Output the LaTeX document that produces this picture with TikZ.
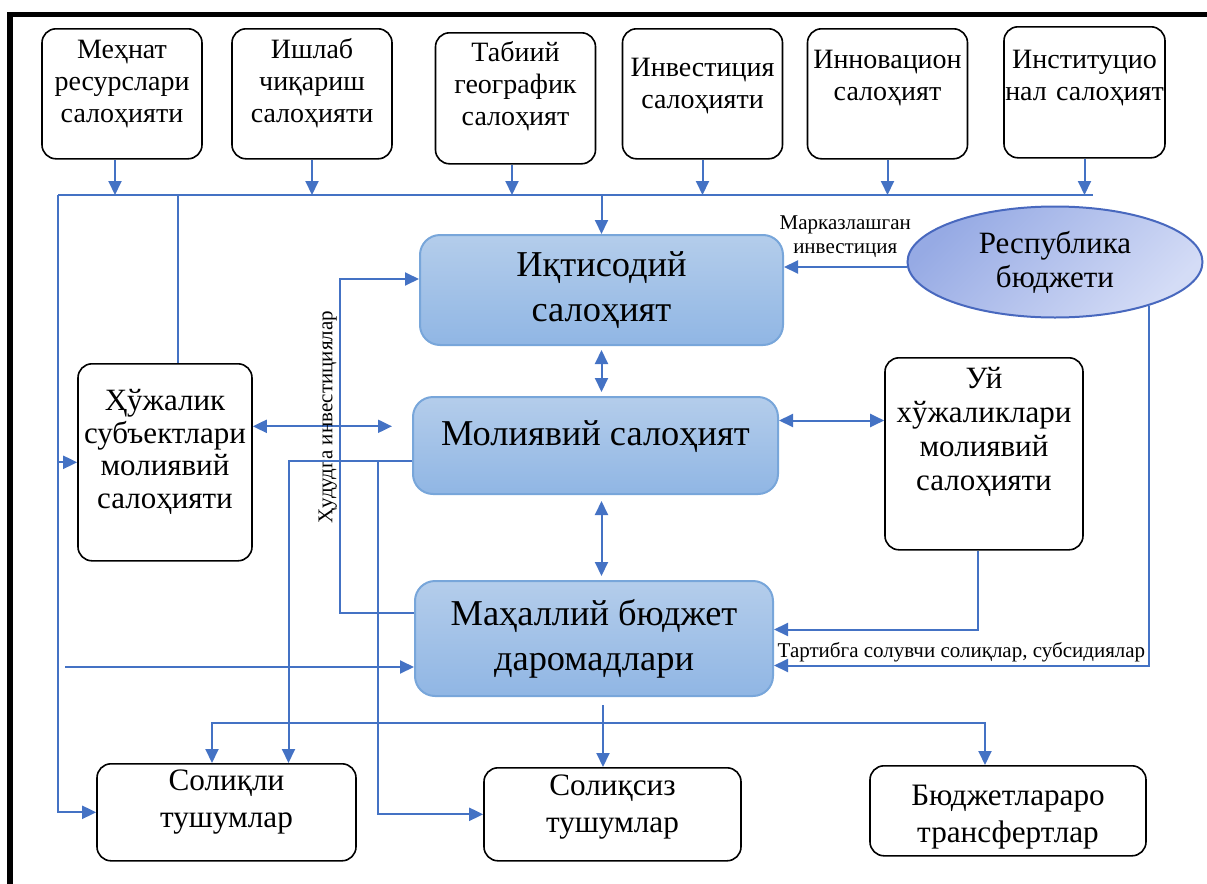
\documentclass[tikz,border=0pt]{standalone}
\usepackage{fontspec}
\setmainfont{Liberation Serif}
\usetikzlibrary{arrows.meta,shapes.geometric,positioning}
\definecolor{wireblue}{RGB}{68,114,196}
\definecolor{boxtop}{RGB}{180,205,235}
\definecolor{boxbot}{RGB}{144,182,228}
\definecolor{boxline}{RGB}{120,166,218}
\definecolor{elltop}{RGB}{150,170,228}
\definecolor{ellbot}{RGB}{212,220,246}
\definecolor{ellline}{RGB}{72,104,190}

\begin{document}
\begin{tikzpicture}[
    x=0.5pt, y=-0.5pt,
    box/.style={
        draw, line width=0.8pt,
        rounded corners=7pt,
        inner xsep=2pt, inner ysep=0pt,
        align=center, anchor=north
    },
    topbox/.style={box, text width=76pt,
        font=\fontsize{14}{16}\selectfont},
    sidebox/.style={box, font=\fontsize{15.5}{16.2}\selectfont},
    lowbox/.style={box, font=\fontsize{15.6}{18.5}\selectfont},
    bluebox/.style={
        draw=boxline, line width=1pt,
        rounded corners=10pt,
        top color=boxtop, bottom color=boxbot,
        align=center, inner sep=0pt,
        font=\fontsize{18.2}{22.5}\selectfont
    },
    budget/.style={
        ellipse, draw=ellline, line width=1pt,
        top color=elltop, bottom color=ellbot, shading angle=45,
        align=center, inner sep=0pt,
        font=\fontsize{15.5}{17}\selectfont
    },
    note/.style={font=\fontsize{10.5}{12}\selectfont, align=center, inner sep=1pt},
    wire/.style={draw=wireblue, line width=1pt},
    arr/.style={wire, -{Triangle[length=7pt,width=6.5pt]}},
    arr2/.style={wire, {Triangle[length=7pt,width=6.5pt]}-{Triangle[length=7pt,width=6.5pt]}}
]
\useasboundingbox (0,0) rectangle (1207,884);
\draw[line width=2.75pt] (10,884) -- (10,14.5) -- (1207,14.5);

\node[topbox, text height=15pt, text depth=50pt] (mehnat) at (122,28) {Меҳнат\\ресурслари\\салоҳияти};
\node[topbox, text height=15pt, text depth=50pt] (ishlab) at (312,28) {Ишлаб\\чиқариш\\салоҳияти};
\node[topbox, text height=14.5pt, text depth=51pt] (tabiiy) at (515.5,32) {Табиий\\географик\\салоҳият};
\node[topbox, text height=24pt, text depth=41pt] (invest) at (702.5,28) {Инвестиция\\салоҳияти};
\node[topbox, text height=20pt, text depth=45pt] (innov) at (887.5,28) {Инновацион\\салоҳият};
\node[topbox, text width=80.5pt, inner xsep=0pt, text height=21pt, text depth=44.5pt] (instit) at (1084.5,26) {Институцио\\нал~салоҳият};

\node[bluebox, minimum width=181.5pt, minimum height=55pt] (iqtisod) at (601.5,290) {Иқтисодий\\салоҳият};
\node[bluebox, minimum width=182.5pt, text height=24pt, text depth=24.5pt] (moliya) at (595.5,445.5) {Молиявий салоҳият};
\node[bluebox, minimum width=179pt, minimum height=57.5pt] (mahalliy) at (594,638.5) {Маҳаллий бюджет\\даромадлари};
\node[budget, minimum width=147.5pt, minimum height=55.5pt] (respublika) at (1055,262) {Республика\\бюджети};

\node[sidebox, text width=83pt, text height=23.5pt, text depth=75pt] (hujalik) at (165,363) {Ҳўжалик\\субъектлари\\молиявий\\салоҳияти};
\node[sidebox, text width=95pt, text height=15.5pt, text depth=80.5pt,
    font=\fontsize{15.5}{17}\selectfont] (uy) at (984,357) {Уй\\хўжаликлари\\молиявий\\салоҳияти};

\node[lowbox, text width=125.5pt, text height=13.5pt, text depth=35pt] (soliqli) at (226.5,763) {Солиқли\\тушумлар};
\node[lowbox, text width=124.5pt, text height=14pt, text depth=32.5pt] (solsiz) at (612.5,767) {Солиқсиз\\тушумлар};
\node[lowbox, text width=134pt, text height=20pt, text depth=25pt] (budjet) at (1008,765) {Бюджетлараро\\трансфертлар};

\coordinate (busl) at (58,195);
\coordinate (busr) at (1093,195);
\foreach \n in {ishlab,invest,innov,instit}
    \draw[arr] (\n) -- (\n |- busl);
\draw[arr] ([xshift=-3.5pt]mehnat.south) -- ([xshift=-3.5pt]mehnat.south |- busl);
\draw[arr] ([xshift=-1.75pt]tabiiy.south) -- ([xshift=-1.75pt]tabiiy.south |- busl);
\draw[wire] (busl) -- (busr);
\draw[arr] (busl) |- (soliqli);
\draw[arr] (busl |- hujalik) -- (hujalik);
\draw[wire] ([xshift=6.5pt]hujalik.north) -- ([xshift=6.5pt]hujalik.north |- busl);
\draw[arr] (iqtisod |- busl) -- (iqtisod);

\draw[arr2, shorten <=2pt, shorten >=2pt] (iqtisod.south) -- (iqtisod.south |- moliya.north);
\draw[arr2, shorten <=3pt, shorten >=2pt] (moliya.south -| iqtisod) -- (mahalliy.north -| iqtisod);
\draw[arr2, shorten >=10pt] ([yshift=18pt]hujalik.east) -- ([yshift=18pt]hujalik.east -| moliya.west);
\draw[arr2] ([yshift=12.5pt]moliya.east) -- ([yshift=12.5pt]moliya.east -| uy.west);

\draw[arr] ([yshift=-2.5pt]respublika.west) -- ([yshift=-2.5pt]respublika.west -| iqtisod.east)
    node[note, midway, above=3pt] {Марказлашган\\инвестиция};
\draw[arr] ([yshift=13pt]mahalliy.west) -- ++(-74,0)
    |- node[note, pos=0.29, rotate=90, above=1pt] {Ҳудудга инвестициялар} ([yshift=5.5pt]iqtisod.west);
\draw[arr] ([yshift=-7.5pt]moliya.west) -| ([xshift=31pt]soliqli.north);
\coordinate (fork) at (378,461);
\draw[arr] (fork) |- (solsiz);
\coordinate (lin) at (65,667);
\draw[arr] (lin) -- (lin -| mahalliy.west);

\draw[arr, shorten <=4pt] ([xshift=4.5pt]mahalliy.south) -- ([xshift=4.5pt]mahalliy.south |- solsiz.north);
\coordinate (dl) at (212,723);
\coordinate (dr) at (985,723);
\draw[arr2] (dl |- soliqli.north) |- (dr) -- (dr |- budjet.north);

\draw[arr] ([xshift=-3pt]uy.south) |- ([yshift=4.5pt]mahalliy.east);
\draw[arr] (respublika.-25) |- node[note, pos=0.75, above=0pt] {Тартибга солувчи солиқлар, субсидиялар} ([yshift=-13.5pt]mahalliy.east);
\end{tikzpicture}
\end{document}
